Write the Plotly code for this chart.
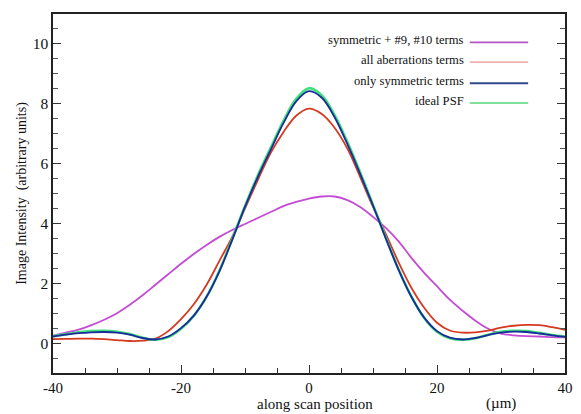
import plotly.graph_objects as go

x_pos = [-40, -38, -36, -34, -32, -30, -28, -26, -24, -22, -20, -18, -16, -14, -12, -10, -8, -6, -4, -2,
         0, 2, 4, 6, 8, 10, 12, 14, 16, 18, 20, 22, 24, 26, 28, 30, 32, 34, 36, 38, 40]

sym_9_10 = [0.25, 0.35, 0.45, 0.60, 0.78, 1.00, 1.28, 1.60, 1.95, 2.30, 2.65, 2.98, 3.28, 3.55, 3.78, 3.98,
            4.18, 4.38, 4.58, 4.72, 4.83, 4.90, 4.90, 4.78, 4.55, 4.22, 3.85, 3.40, 2.85, 2.35, 1.90, 1.45,
            1.08, 0.75, 0.48, 0.32, 0.26, 0.23, 0.22, 0.20, 0.19]

all_aberr = [0.13, 0.14, 0.15, 0.15, 0.13, 0.10, 0.07, 0.08, 0.15, 0.40, 0.80, 1.30, 1.95, 2.75, 3.55, 4.50,
             5.45, 6.35, 7.05, 7.60, 7.84, 7.66, 7.20, 6.50, 5.55, 4.55, 3.65, 2.70, 1.85, 1.18, 0.68, 0.42,
             0.35, 0.36, 0.42, 0.52, 0.58, 0.61, 0.60, 0.53, 0.44]

only_sym = [0.22, 0.28, 0.33, 0.36, 0.37, 0.35, 0.28, 0.17, 0.12, 0.22, 0.50, 0.92, 1.55, 2.40, 3.45, 4.55,
            5.55, 6.45, 7.35, 8.08, 8.42, 8.20, 7.55, 6.65, 5.65, 4.60, 3.50, 2.45, 1.55, 0.85, 0.40, 0.18,
            0.12, 0.17, 0.27, 0.35, 0.38, 0.37, 0.32, 0.26, 0.21]

ideal_psf = [0.23, 0.29, 0.36, 0.40, 0.41, 0.38, 0.30, 0.18, 0.11, 0.20, 0.48, 0.91, 1.55, 2.42, 3.47, 4.58,
             5.60, 6.52, 7.42, 8.16, 8.52, 8.28, 7.62, 6.72, 5.70, 4.62, 3.52, 2.46, 1.55, 0.84, 0.38, 0.16,
             0.11, 0.16, 0.28, 0.38, 0.41, 0.40, 0.34, 0.27, 0.22]

legend_labels = ["symmetric + #9, #10 terms", "all aberrations terms", "only symmetric terms", "ideal PSF"]
x_ticks = [-40, -20, 0, 20, 40]
y_ticks = [0, 2, 4, 6, 8, 10]

FONT = "Liberation Serif"
c_purple = "#c44cd4"
c_red = "#d43a22"
c_blue = "#1a2a9c"
c_green = "#3ee07a"

fig = go.Figure()
fig.add_trace(go.Scatter(x=x_pos, y=sym_9_10, mode="lines", line=dict(color=c_purple, width=1.8, shape="spline"),
                         name=legend_labels[0], showlegend=False))
fig.add_trace(go.Scatter(x=x_pos, y=all_aberr, mode="lines", line=dict(color=c_red, width=1.8, shape="spline"),
                         name=legend_labels[1], showlegend=False))
fig.add_trace(go.Scatter(x=x_pos, y=ideal_psf, mode="lines", line=dict(color=c_green, width=2.6, shape="spline"),
                         name=legend_labels[3], showlegend=False))
fig.add_trace(go.Scatter(x=x_pos, y=only_sym, mode="lines", line=dict(color=c_blue, width=1.8, shape="spline"),
                         name=legend_labels[2], showlegend=False))

# manual legend: text right-aligned, line sample to the right
leg_colors = ["#b455c4", "#e07a72", "#334a8a", "#55d47a"]
leg_widths = [1.6, 1.0, 2.0, 1.6]
leg_y = [0.927, 0.872, 0.813, 0.758]
for lab, col, w, yy in zip(legend_labels, leg_colors, leg_widths, leg_y):
    fig.add_annotation(x=0.807, y=yy, xref="paper", yref="paper", text=lab, showarrow=False,
                       xanchor="right", yanchor="middle", font=dict(family=FONT, size=12.6, color="#111"))
    fig.add_shape(type="line", xref="paper", yref="paper", x0=0.814, x1=0.928, y0=yy - 0.006, y1=yy - 0.006,
                  line=dict(color=col, width=w))

fig.add_annotation(x=0.512, y=-0.111, xref="paper", yref="paper", text="along scan position", showarrow=False,
                   xanchor="center", yanchor="bottom", borderpad=0, font=dict(family=FONT, size=15, color="#111"))
fig.add_annotation(x=0.875, y=-0.111, xref="paper", yref="paper", text="(µm)", showarrow=False,
                   xanchor="center", yanchor="bottom", borderpad=0, font=dict(family=FONT, size=15, color="#111"))

# page body has an 8px default margin, so the figure is sized/offset to compensate
fig.update_layout(
    width=573, height=406,
    margin=dict(l=45, r=16, t=4, b=41),
    paper_bgcolor="white", plot_bgcolor="white",
    font=dict(family=FONT, color="#111"),
    showlegend=False,
)
fig.update_xaxes(range=[-40, 40], tickvals=x_ticks, ticktext=[str(v) for v in x_ticks],
                 ticks="inside", ticklen=8, tickwidth=1.2, tickcolor="#333",
                 minor=dict(dtick=5, tick0=0, ticks="inside", ticklen=5, tickcolor="#333"),
                 showline=True, linecolor="#222", linewidth=1.5, mirror=True,
                 showgrid=False, zeroline=False, tickfont=dict(family=FONT, size=15, color="#111"))
fig.update_yaxes(range=[-1, 11], tickvals=y_ticks, ticktext=[str(v) for v in y_ticks],
                 ticks="inside", ticklen=8, tickwidth=1.2, tickcolor="#333",
                 minor=dict(dtick=0.5, tick0=0, ticks="inside", ticklen=5, tickcolor="#555"),
                 showline=True, linecolor="#222", linewidth=1.5, mirror="ticks",
                 showgrid=False, zeroline=False, tickfont=dict(family=FONT, size=15.5, color="#111"),
                 title=dict(text="Image Intensity  (arbitrary units)", standoff=3,
                            font=dict(family=FONT, size=14, color="#111")))

fig.write_html("out.html")
